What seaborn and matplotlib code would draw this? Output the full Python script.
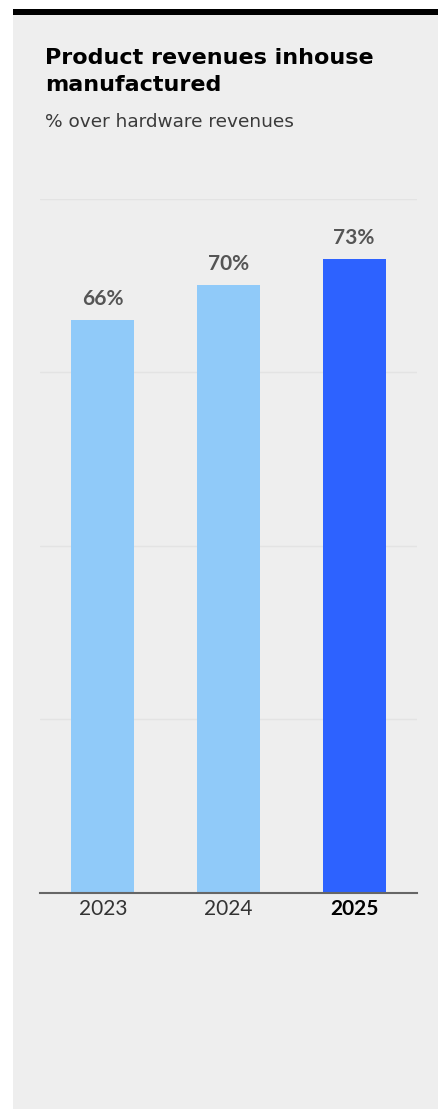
import pandas as pd
import matplotlib.pyplot as plt
import seaborn as sns
from matplotlib.patches import Rectangle

# dane
years = ['2023', '2024', '2025']
share = [66, 70, 73]
colors = ['#90CAF9', '#90CAF9', '#2D62FF']

df = pd.DataFrame({'year': years, 'share': share})

sns.set_theme(style='white')
plt.rcParams['font.family'] = ['Lato', 'DejaVu Sans']

W, H = 439, 1109
fig = plt.figure(figsize=(W / 100, H / 100), dpi=100)
fig.patch.set_facecolor('white')

# szare tlo panelu + czarny pasek u gory
fig.add_artist(Rectangle((13 / W, 0), 1 - 13 / W, 1 - 9 / H, transform=fig.transFigure,
                         facecolor='#EEEEEE', edgecolor='none', zorder=0))
fig.add_artist(Rectangle((13 / W, 1 - 15 / H), 1 - 13 / W, 6 / H, transform=fig.transFigure,
                         facecolor='black', edgecolor='none', zorder=1))

ax = fig.add_axes([40 / W, (H - 893) / H, 377 / W, (893 - 198.5) / H])
ax.set_facecolor('none')

sns.barplot(data=df, x='year', y='share', hue='year', palette=dict(zip(years, colors)),
            width=0.5, legend=False, ax=ax, saturation=1, linewidth=0)

ax.set_ylim(0, 80)
ax.set_xlim(-0.5, 2.5)
ax.set_yticks([20, 40, 60, 80])
ax.yaxis.grid(True, color='#E3E3E3', linewidth=1)
ax.set_axisbelow(True)
ax.tick_params(axis='y', left=False, labelleft=False)
ax.tick_params(axis='x', bottom=False, pad=-1.5, labelsize=15, labelcolor='#333333')
for s in ['top', 'right', 'left']:
    ax.spines[s].set_visible(False)
ax.spines['bottom'].set_color('#666666')
ax.spines['bottom'].set_linewidth(1.5)
ax.set_xlabel('')
ax.set_ylabel('')

for lbl in ax.get_xticklabels():
    if lbl.get_text() == '2025':
        lbl.set_fontweight('bold')
        lbl.set_color('black')

for c in ax.containers:
    ax.bar_label(c, labels=[f'{int(v)}%' for v in c.datavalues], padding=8,
                 fontsize=15, fontweight='bold', color='#555555')

# tytul i podtytul
tfont = ['DejaVu Sans']
fig.text(45 / W, 1 - 63.5 / H, 'Product revenues inhouse', fontsize=16, family=tfont,
         fontweight='bold', color='black', va='baseline')
fig.text(45 / W, 1 - 91.5 / H, 'manufactured', fontsize=16, family=tfont,
         fontweight='bold', color='black', va='baseline')
fig.text(45 / W, 1 - 127 / H, '% over hardware revenues', fontsize=13.3, family=tfont,
         color='#3A3A3A', va='baseline')

fig.savefig('out.png', dpi=100)
